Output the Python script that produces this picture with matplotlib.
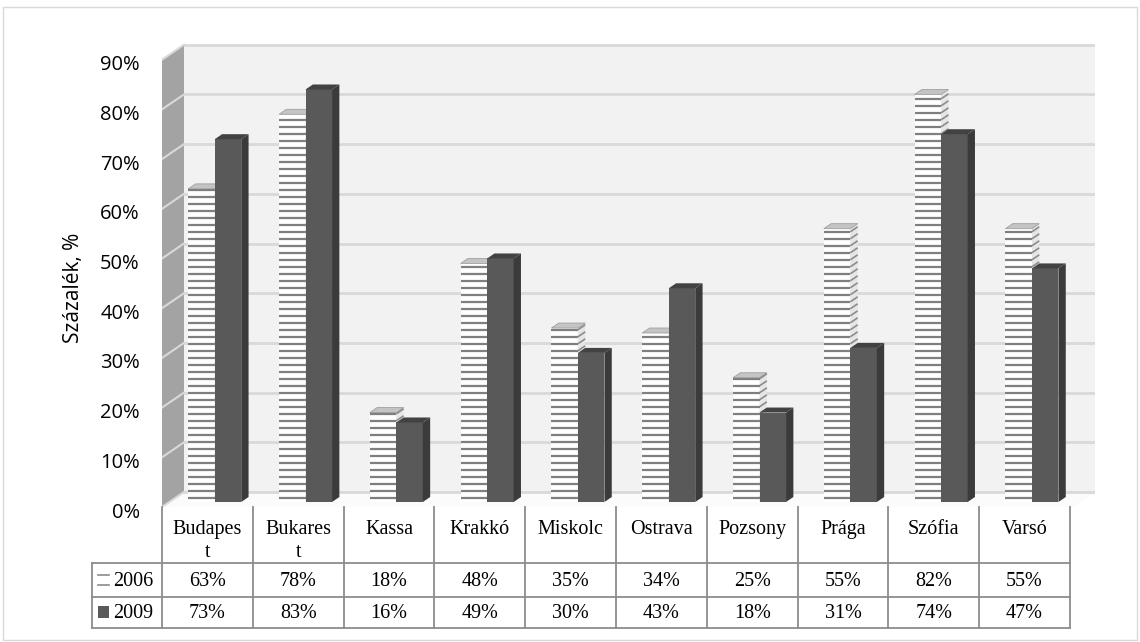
import matplotlib.pyplot as plt
import matplotlib.transforms as mtransforms
import numpy as np
from matplotlib.patches import Polygon, Rectangle
from matplotlib.collections import LineCollection

cities = ["Budapes\nt", "Bukares\nt", "Kassa", "Krakkó", "Miskolc",
          "Ostrava", "Pozsony", "Prága", "Szófia", "Varsó"]
v2006 = [63, 78, 18, 48, 35, 34, 25, 55, 82, 55]
v2009 = [73, 83, 16, 49, 30, 43, 18, 31, 74, 47]
years = ["2006", "2009"]
yticks = np.arange(0, 100, 10)

W, H = 1140, 642
PX_X = 90.8          # pixels per category
PX_Y = 4.97          # pixels per percent
DX = 22 / PX_X       # 3d depth, x
DY = 15 / PX_Y       # 3d depth, y
BW = 26.5 / PX_X     # bar width

def fx(px):
    return px / W

def fy(py):
    return 1 - py / H

fig = plt.figure(figsize=(11.4, 6.42), dpi=100)
fig.patch.set_facecolor('white')

x0_px, y0_px = 162, 507
xmax = 9.5 + DX + 0.03
ymax = 94.5
ax = fig.add_axes([fx(x0_px), fy(y0_px), (xmax + 0.5) * PX_X / W, ymax * PX_Y / H])
ax.set_xlim(-0.5, xmax)
ax.set_ylim(0, ymax)
ax.patch.set_visible(False)
for s in ax.spines.values():
    s.set_visible(False)

grid_c = '#d9d9d9'
bl, br = -0.5 + DX, 9.5 + DX + 0.05
# back wall
ax.add_patch(Polygon([(bl, DY), (br, DY), (br, 90 + DY), (bl, 90 + DY)],
                     facecolor='#f2f2f2', edgecolor='none', zorder=0))
for v in yticks:
    ax.plot([bl, br], [v + DY, v + DY], color=grid_c, lw=2, zorder=1)
# floor
ax.add_patch(Polygon([(-0.5, 0), (br - DX, 0), (br, DY), (bl, DY)],
                     facecolor='#fbfbfb', edgecolor='none', zorder=0))
# side wall
ax.add_patch(Polygon([(-0.5, 0), (bl, DY), (bl, 90 + DY), (-0.5, 90)],
                     facecolor='#a3a3a3', edgecolor='none', zorder=1))
for v in yticks:
    ax.plot([-0.5, bl], [v, v + DY], color=grid_c, lw=1.5, zorder=1)

# bars
x = np.arange(len(cities))
dx, dy = DX / 3, DY / 3
base = DY / 3
step = 7 / PX_Y
xs06 = x + dx - BW / 2
xs09 = x + dx + BW / 2

ax.bar(xs06, v2006, width=BW, bottom=base, color='white', edgecolor='none', zorder=3)
stripes, slants = [], []
for xc, v in zip(xs06, v2006):
    xl, xr = xc - BW / 2, xc + BW / 2
    top = base + v
    ax.add_patch(Polygon([(xr, base), (xr + dx, base + dy), (xr + dx, top + dy), (xr, top)],
                         facecolor='#e6e6e6', edgecolor='none', zorder=3))
    for yy in np.arange(base + step * 0.6, top, step):
        stripes.append([(xl, yy), (xr, yy)])
        slants.append([(xr, yy), (xr + dx, yy + dy)])
    ax.add_patch(Polygon([(xl, top), (xr, top), (xr + dx, top + dy), (xl + dx, top + dy)],
                         facecolor='#c4c4c4', edgecolor='#a0a0a0', lw=0.6, zorder=4))
ax.add_collection(LineCollection(stripes, colors='#7f7f7f', linewidths=1.6, zorder=4))
ax.add_collection(LineCollection(slants, colors='#8c8c8c', linewidths=1.2, zorder=4))

ax.bar(xs09, v2009, width=BW, bottom=base, color='#595959', edgecolor='none', zorder=5)
for xc, v in zip(xs09, v2009):
    xl, xr = xc - BW / 2, xc + BW / 2
    top = base + v
    ax.add_patch(Polygon([(xr, base), (xr + dx, base + dy), (xr + dx, top + dy), (xr, top)],
                         facecolor='#3b3b3b', edgecolor='none', zorder=5))
    ax.add_patch(Polygon([(xl, top), (xr, top), (xr + dx, top + dy), (xl + dx, top + dy)],
                         facecolor='#424242', edgecolor='none', zorder=5))

ax.set_xticks([])
ax.set_yticks(yticks)
ax.set_yticklabels([f"{v}%" for v in yticks], fontfamily='Open Sans', fontsize=14.5)
ax.tick_params(axis='y', length=0, pad=16)
shift = mtransforms.ScaledTranslation(0, -3 / 100, fig.dpi_scale_trans)
for lab in ax.get_yticklabels():
    lab.set_transform(lab.get_transform() + shift)
fig.text(fx(73), fy(288), "Százalék, %", rotation=90, ha='center', va='center',
         fontfamily='Open Sans', fontsize=15)

# data table
tab = fig.add_axes([fx(x0_px), fy(640), (xmax + 0.5) * PX_X / W, 133 / H])
tab.set_xlim(-0.5, xmax)
tab.set_ylim(133, 0)
tab.axis('off')
line_kw = dict(color='#8c8c8c', lw=1.3, clip_on=False)
legx = -0.5 - 70 / PX_X
for k in range(len(cities) + 1):
    tab.plot([k - 0.5, k - 0.5], [0, 121], **line_kw)
for yy in [56, 90, 121]:
    tab.plot([legx, 9.5], [yy, yy], **line_kw)
tab.plot([legx, legx], [56, 121], **line_kw)

tfont = dict(fontfamily='Liberation Serif', fontsize=14.5, ha='center')
for i, name in enumerate(cities):
    tab.text(i, 13, name, va='top', linespacing=1.3, **tfont)
    tab.text(i, 75, f"{v2006[i]}%", va='center', **tfont)
    tab.text(i, 107, f"{v2009[i]}%", va='center', **tfont)

# legend keys in table
kx0, kx1 = legx + 6 / PX_X, legx + 17 / PX_X
tab.plot([kx0, kx1], [68, 68], color='#8c8c8c', lw=1.2, clip_on=False)
tab.plot([kx0, kx1], [78, 78], color='#8c8c8c', lw=1.2, clip_on=False)
tab.add_patch(Rectangle((kx0, 99), kx1 - kx0, 12, facecolor='#595959',
                        edgecolor='none', clip_on=False))
for yy, lab in zip([75, 107], years):
    tab.text(legx + 21 / PX_X, yy, lab, va='center', ha='left',
             fontfamily='Liberation Serif', fontsize=14.5)

# outer frame
fig.patches.append(Rectangle((fx(3), fy(640)), fx(1134), 633 / H, transform=fig.transFigure,
                             facecolor='none', edgecolor='#d9d9d9', lw=1))

fig.savefig('out.png', dpi=100)
